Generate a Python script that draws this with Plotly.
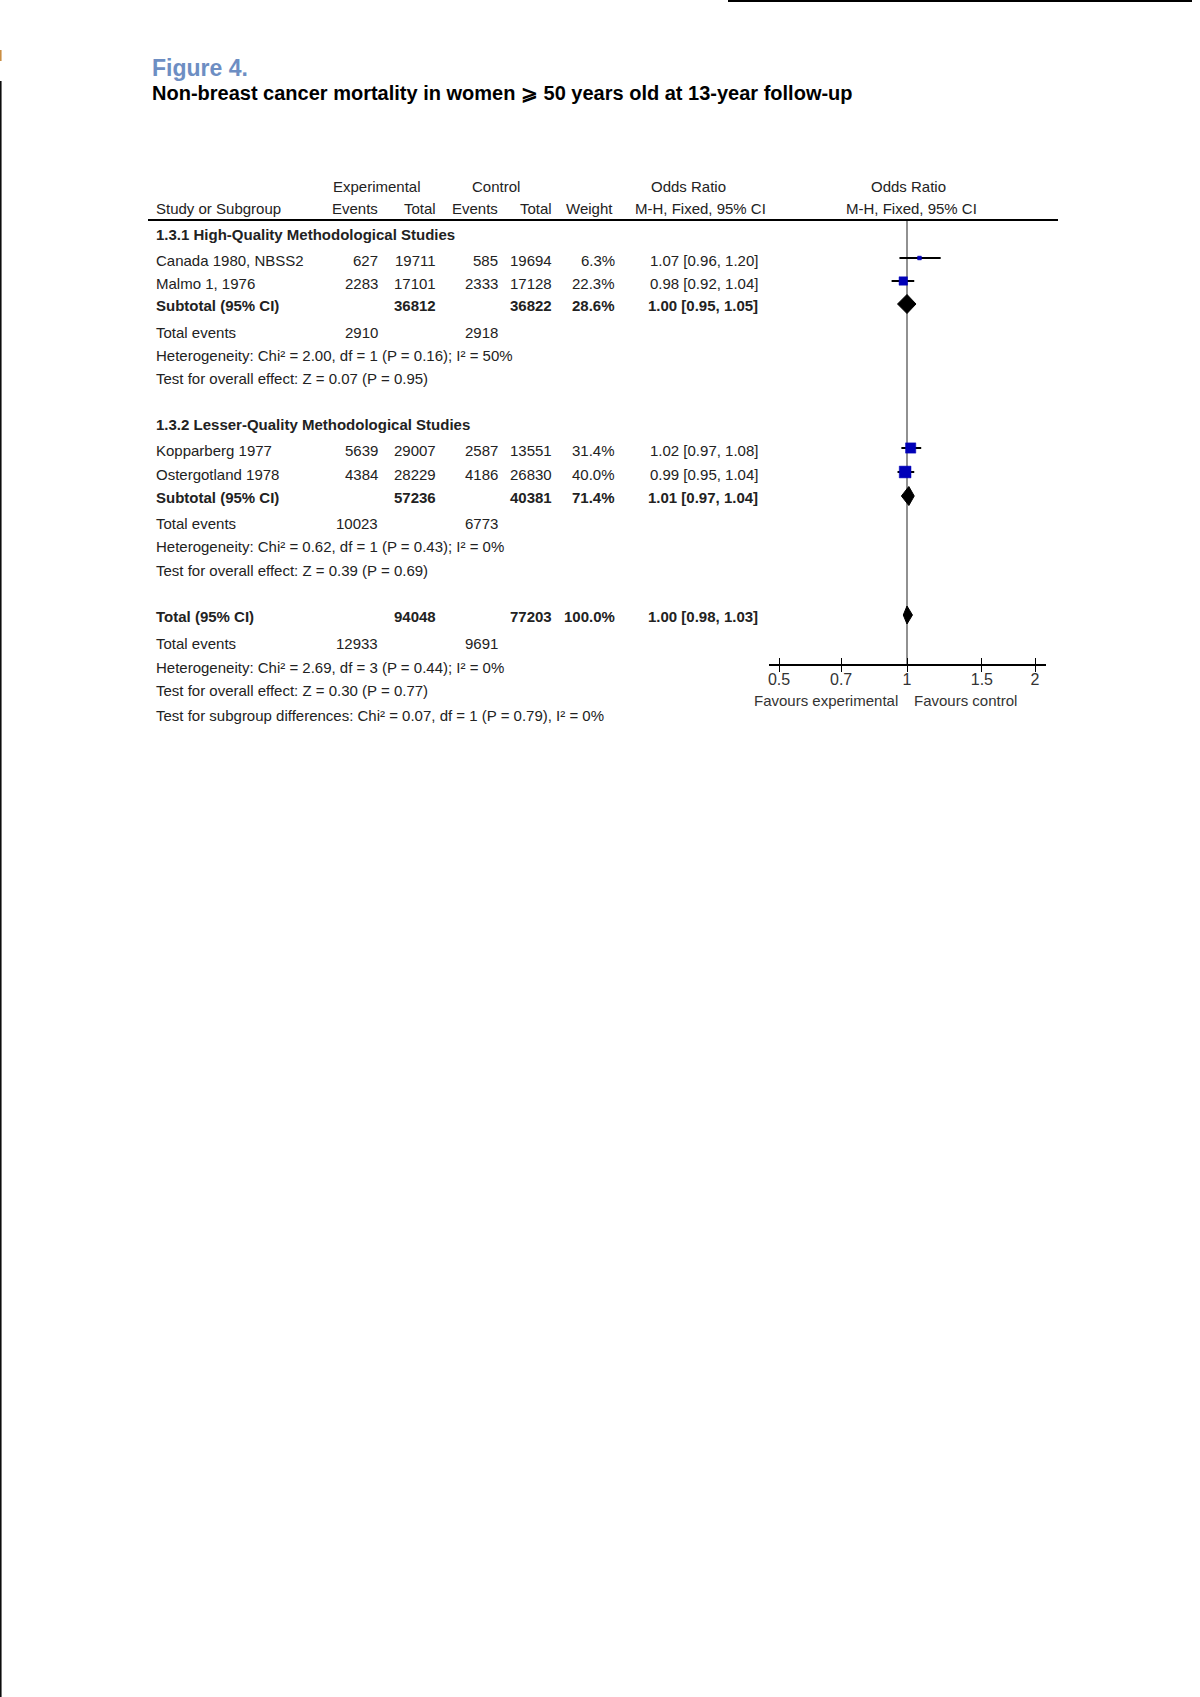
import math
import plotly.graph_objects as go

# ---------------- data ----------------
studies = ["Canada 1980, NBSS2", "Malmo 1, 1976", "Kopparberg 1977", "Ostergotland 1978"]
study_group = [0, 0, 1, 1]
exp_events = [627, 2283, 5639, 4384]
exp_total = [19711, 17101, 29007, 28229]
ctrl_events = [585, 2333, 2587, 4186]
ctrl_total = [19694, 17128, 13551, 26830]
weights = [6.3, 22.3, 31.4, 40.0]
or_est = [1.07, 0.98, 1.02, 0.99]
or_lo = [0.96, 0.92, 0.97, 0.95]
or_hi = [1.20, 1.04, 1.08, 1.04]

subgroups = ["1.3.1 High-Quality Methodological Studies", "1.3.2 Lesser-Quality Methodological Studies"]
sub_exp_total = [36812, 57236]
sub_ctrl_total = [36822, 40381]
sub_weight = [28.6, 71.4]
sub_est = [1.00, 1.01]
sub_lo = [0.95, 0.97]
sub_hi = [1.05, 1.04]
sub_exp_events = [2910, 10023]
sub_ctrl_events = [2918, 6773]
sub_het = ["Heterogeneity: Chi² = 2.00, df = 1 (P = 0.16); I² = 50%",
           "Heterogeneity: Chi² = 0.62, df = 1 (P = 0.43); I² = 0%"]
sub_overall = ["Test for overall effect: Z = 0.07 (P = 0.95)",
               "Test for overall effect: Z = 0.39 (P = 0.69)"]

tot_exp_total = 94048
tot_ctrl_total = 77203
tot_weight = 100.0
tot_est, tot_lo, tot_hi = 1.00, 0.98, 1.03
tot_exp_events = 12933
tot_ctrl_events = 9691
tot_het = "Heterogeneity: Chi² = 2.69, df = 3 (P = 0.44); I² = 0%"
tot_overall = "Test for overall effect: Z = 0.30 (P = 0.77)"
tot_subdiff = "Test for subgroup differences: Chi² = 0.07, df = 1 (P = 0.79), I² = 0%"

tick_vals = [0.5, 0.7, 1, 1.5, 2]
tick_text = ["0.5", "0.7", "1", "1.5", "2"]

title_text = "Figure 4."
subtitle_text = "Non-breast cancer mortality in women ⩾ 50 years old at 13-year follow-up"

# ---------------- layout (pixel geometry) ----------------
W, H = 1200, 1697
FONT = "Liberation Sans, Arial, sans-serif"
TXT = "#222222"
FS = 15

# row vertical positions (pixels from top)
Y_HEAD1, Y_HEAD2, Y_LINE = 186, 208, 220
Y_GROUP = [234, 424]
Y_STUDY = [260, 283, 450, 474]
Y_SUB = [305, 497]
Y_SUB_EV = [332, 523]
Y_SUB_HET = [355, 546]
Y_SUB_OV = [378, 570]
Y_TOT, Y_TOT_EV, Y_TOT_HET, Y_TOT_OV, Y_TOT_SD = 616, 643, 667, 690, 715
Y_AXIS = 665
Y_FAV = 700

# column x positions (pixels)
X_LABEL = 154
X_EEV, X_ETOT, X_CEV, X_CTOT, X_W, X_OR = 380, 438, 500, 554, 617, 760
X_PLOT0, X_PLOT1 = 769, 1046
X_ONE = 907
px_per_dec = (X_ONE - 779) / math.log10(2)
xr = [(X_PLOT0 - X_ONE) / px_per_dec, (X_PLOT1 - X_ONE) / px_per_dec]

fig = go.Figure()
ann = []


def txt(x, y, s, anchor="left", bold=False, size=FS, color=TXT):
    if bold:
        s = "<b>" + s + "</b>"
    ann.append(dict(x=x / W, y=y, xref="paper", yref="y", text=s, showarrow=False,
                    xanchor=anchor, yanchor="middle",
                    font=dict(family=FONT, size=size, color=color)))


def fmt_or(e, lo, hi):
    return f"{e:.2f} [{lo:.2f}, {hi:.2f}]"


# title
ann.append(dict(x=150 / W, y=68, xref="paper", yref="y", text="<b>" + title_text + "</b>",
                showarrow=False, xanchor="left", yanchor="middle",
                font=dict(family=FONT, size=23, color="#6d8ec3")))
ann.append(dict(x=150 / W, y=93, xref="paper", yref="y", text="<b>" + subtitle_text + "</b>",
                showarrow=False, xanchor="left", yanchor="middle",
                font=dict(family=FONT, size=20, color="#000000")))

# headers
txt(377, Y_HEAD1, "Experimental", "center")
txt(496, Y_HEAD1, "Control", "center")
txt(688, Y_HEAD1, "Odds Ratio", "center")
txt(909, Y_HEAD1, "Odds Ratio", "center")
txt(X_LABEL, Y_HEAD2, "Study or Subgroup")
txt(X_EEV, Y_HEAD2, "Events", "right")
txt(X_ETOT, Y_HEAD2, "Total", "right")
txt(X_CEV, Y_HEAD2, "Events", "right")
txt(X_CTOT, Y_HEAD2, "Total", "right")
txt(615, Y_HEAD2, "Weight", "right")
txt(700, Y_HEAD2, "M-H, Fixed, 95% CI", "center")
txt(911, Y_HEAD2, "M-H, Fixed, 95% CI", "center")

# groups
for g in range(2):
    txt(X_LABEL, Y_GROUP[g], subgroups[g], bold=True)
    for i in range(len(studies)):
        if study_group[i] != g:
            continue
        y = Y_STUDY[i]
        txt(X_LABEL, y, studies[i])
        txt(X_EEV, y, str(exp_events[i]), "right")
        txt(X_ETOT, y, str(exp_total[i]), "right")
        txt(X_CEV, y, str(ctrl_events[i]), "right")
        txt(X_CTOT, y, str(ctrl_total[i]), "right")
        txt(X_W, y, f"{weights[i]:.1f}%", "right")
        txt(X_OR, y, fmt_or(or_est[i], or_lo[i], or_hi[i]), "right")
    y = Y_SUB[g]
    txt(X_LABEL, y, "Subtotal (95% CI)", bold=True)
    txt(X_ETOT, y, str(sub_exp_total[g]), "right", bold=True)
    txt(X_CTOT, y, str(sub_ctrl_total[g]), "right", bold=True)
    txt(X_W, y, f"{sub_weight[g]:.1f}%", "right", bold=True)
    txt(X_OR, y, fmt_or(sub_est[g], sub_lo[g], sub_hi[g]), "right", bold=True)
    txt(X_LABEL, Y_SUB_EV[g], "Total events")
    txt(X_EEV, Y_SUB_EV[g], str(sub_exp_events[g]), "right")
    txt(X_CEV, Y_SUB_EV[g], str(sub_ctrl_events[g]), "right")
    txt(X_LABEL, Y_SUB_HET[g], sub_het[g])
    txt(X_LABEL, Y_SUB_OV[g], sub_overall[g])

# total
txt(X_LABEL, Y_TOT, "Total (95% CI)", bold=True)
txt(X_ETOT, Y_TOT, str(tot_exp_total), "right", bold=True)
txt(X_CTOT, Y_TOT, str(tot_ctrl_total), "right", bold=True)
txt(X_W, Y_TOT, f"{tot_weight:.1f}%", "right", bold=True)
txt(X_OR, Y_TOT, fmt_or(tot_est, tot_lo, tot_hi), "right", bold=True)
txt(X_LABEL, Y_TOT_EV, "Total events")
txt(X_EEV, Y_TOT_EV, str(tot_exp_events), "right")
txt(X_CEV, Y_TOT_EV, str(tot_ctrl_events), "right")
txt(X_LABEL, Y_TOT_HET, tot_het)
txt(X_LABEL, Y_TOT_OV, tot_overall)
txt(X_LABEL, Y_TOT_SD, tot_subdiff)

# favours labels
txt(826, Y_FAV, "Favours experimental", "center", color="#333333")
txt(965, Y_FAV, "Favours control", "center", color="#333333")

# ---------------- forest marks ----------------
# reference line at OR = 1
fig.add_trace(go.Scatter(x=[1, 1], y=[Y_LINE, Y_AXIS], mode="lines",
                         line=dict(color="#555555", width=1.3), showlegend=False, hoverinfo="skip"))

# confidence intervals
ci_x, ci_y = [], []
for i in range(len(studies)):
    ci_x += [or_lo[i], or_hi[i], None]
    ci_y += [Y_STUDY[i] - 2, Y_STUDY[i] - 2, None]
fig.add_trace(go.Scatter(x=ci_x, y=ci_y, mode="lines", line=dict(color="black", width=2),
                         showlegend=False, hoverinfo="skip"))

# squares sized by weight
fig.add_trace(go.Scatter(x=or_est, y=[y - 2 for y in Y_STUDY], mode="markers",
                         marker=dict(symbol="square", color="#0000b8", opacity=1,
                                     size=[2.1 * math.sqrt(w) - 1.5 for w in weights],
                                     line=dict(width=0.5, color="#0000b8")),
                         showlegend=False, hoverinfo="skip"))


# diamonds
def diamond(e, lo, hi, y, h=9.5):
    fig.add_trace(go.Scatter(x=[lo, e, hi, e, lo], y=[y, y - h, y, y + h, y], mode="lines",
                             fill="toself", fillcolor="black", line=dict(color="black", width=1),
                             showlegend=False, hoverinfo="skip"))


for g in range(2):
    diamond(sub_est[g], sub_lo[g], sub_hi[g], Y_SUB[g] - 1)
diamond(tot_est, tot_lo, tot_hi, Y_TOT - 1, 9)

# ---------------- decorative lines ----------------
shapes = [
    dict(type="line", xref="paper", yref="y", x0=148 / W, x1=1058 / W, y0=Y_LINE, y1=Y_LINE,
         line=dict(color="black", width=2)),
    dict(type="line", xref="paper", yref="y", x0=728 / W, x1=1192 / W, y0=1, y1=1,
         line=dict(color="black", width=2)),
    dict(type="line", xref="paper", yref="y", x0=0.8 / W, x1=0.8 / W, y0=81, y1=H,
         line=dict(color="black", width=1.5)),
    dict(type="line", xref="paper", yref="y", x0=0.8 / W, x1=0.8 / W, y0=50, y1=61,
         line=dict(color="#c8893a", width=1.5)),
]

axis_pos = 1 - Y_AXIS / H
common = dict(type="log", domain=[X_PLOT0 / W, X_PLOT1 / W], range=xr, anchor="free",
              position=axis_pos, tickvals=tick_vals, showgrid=False, zeroline=False,
              fixedrange=True)
fig.update_layout(
    width=W, height=H, autosize=False,
    margin=dict(l=0, r=0, t=0, b=0, pad=0),
    paper_bgcolor="white", plot_bgcolor="rgba(0,0,0,0)",
    showlegend=False,
    annotations=ann, shapes=shapes,
    xaxis=dict(**common, showline=True, linecolor="black", linewidth=2,
               ticks="", ticktext=tick_text, ticklabelstandoff=0,
               tickfont=dict(family=FONT, size=16, color="#333333")),
    xaxis2=dict(**common, overlaying="x", showline=False, ticks="inside", ticklen=7,
                tickwidth=1, tickcolor="black", showticklabels=False),
    xaxis3=dict(**common, overlaying="x", showline=False, ticks="outside", ticklen=6,
                tickwidth=1, tickcolor="black", showticklabels=False),
    yaxis=dict(domain=[0, 1], range=[H, 0], visible=False, fixedrange=True),
)
# invisible traces to activate the tick overlay axes
for ax in ["x2", "x3"]:
    fig.add_trace(go.Scatter(x=[1], y=[-50], xaxis=ax, mode="markers",
                             marker=dict(size=1, opacity=0), showlegend=False, hoverinfo="skip"))

fig.write_html("out.html", config={"displayModeBar": False},
               post_script="document.body.style.margin='0';document.body.style.overflow='hidden';")
